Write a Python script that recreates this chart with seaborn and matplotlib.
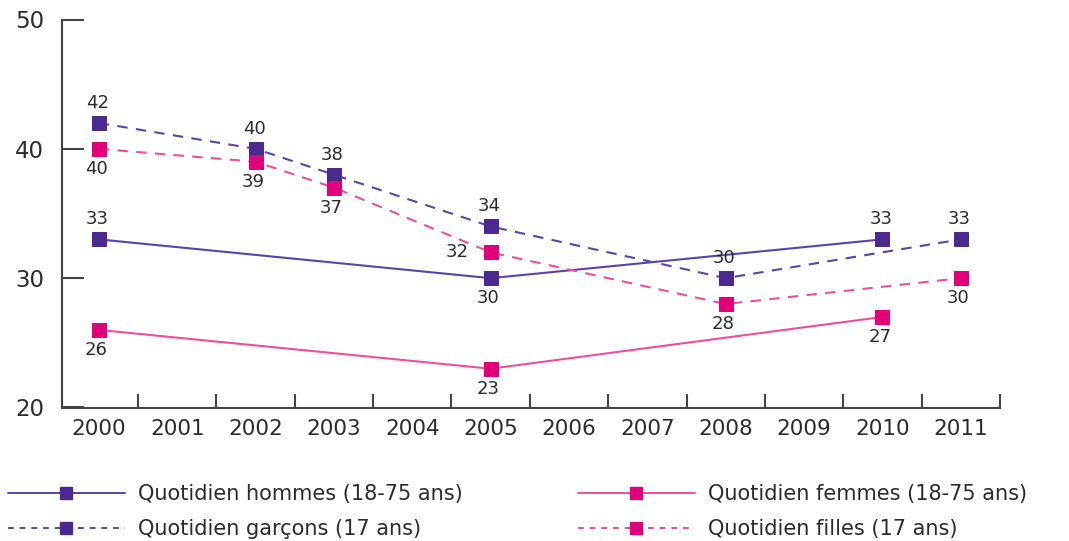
import matplotlib
matplotlib.use("Agg")
import matplotlib.pyplot as plt
from matplotlib.lines import Line2D
import seaborn as sns
import pandas as pd

# Daily smoking prevalence (%)
years_adults = [2000, 2005, 2010]
hommes = [33, 30, 33]
femmes = [26, 23, 27]

years_teens = [2000, 2002, 2003, 2005, 2008, 2011]
garcons = [42, 40, 38, 34, 30, 33]
filles = [40, 39, 37, 32, 28, 30]

year_ticks = list(range(2000, 2012))
y_ticks = [20, 30, 40, 50]

labels = {
    "hommes": "Quotidien hommes (18-75 ans)",
    "femmes": "Quotidien femmes (18-75 ans)",
    "garcons": "Quotidien garçons (17 ans)",
    "filles": "Quotidien filles (17 ans)",
}

PURPLE = "#4a2a8f"
PURPLE_LINE = "#5a44a6"
PINK = "#e2007a"
PINK_LINE = "#ec4f98"
TEXT = "#2b2b2b"

sns.set_theme(style="white")
plt.rcParams["font.family"] = ["DejaVu Sans"]

W, H = 1069, 541
fig = plt.figure(figsize=(W / 100, H / 100), dpi=100)
ax = fig.add_axes([62 / W, (H - 407.5) / H, (1000 - 62) / W, (407.5 - 19.5) / H])

series = [
    ("hommes", years_adults, hommes, PURPLE_LINE, PURPLE, "-"),
    ("femmes", years_adults, femmes, PINK_LINE, PINK, "-"),
    ("garcons", years_teens, garcons, PURPLE_LINE, PURPLE, "--"),
    ("filles", years_teens, filles, PINK_LINE, PINK, "--"),
]

for key, xs, ys, lc, mc, ls in series:
    df = pd.DataFrame({"annee": xs, "valeur": ys})
    sns.lineplot(data=df, x="annee", y="valeur", ax=ax, color=lc, linewidth=1.5,
                 linestyle=ls, marker="s", markersize=10, markerfacecolor=mc,
                 markeredgecolor=mc, legend=False)
    if ls == "--":
        ax.lines[-1].set_dashes((5, 4))

# value labels: placement per point (offset in points)
place = {
    "hommes": ["up", "down", "up"],
    "femmes": ["down", "down", "down"],
    "garcons": ["up", "up", "up", "up", "up", "up"],
    "filles": ["down", "down", "down", "left", "down", "down"],
}
offsets = {"up": (-1, 14.5), "down": (-2, -14.5), "left": (-24, 0)}
for key, xs, ys, *_ in series:
    for x, y, p in zip(xs, ys, place[key]):
        dx, dy = offsets[p]
        ax.annotate(f"{y}", (x, y), xytext=(dx, dy), textcoords="offset points",
                    ha="center", va="center", fontsize=13, color=TEXT)

ax.set_xlim(1999.53, 2011.5)
ax.set_ylim(20, 50)
ax.set_yticks(y_ticks)
ax.set_yticklabels([str(v) for v in y_ticks], fontsize=16.5, color=TEXT)
ax.set_xticks(year_ticks)
ax.set_xticklabels([str(v) for v in year_ticks], fontsize=15.5, color=TEXT)
ax.set_xticks([y + 0.5 for y in year_ticks], minor=True)
ax.tick_params(axis="x", which="major", length=0, pad=8)
ax.tick_params(axis="x", which="minor", direction="in", length=10, width=1.5,
               color="#444444", bottom=True)
ax.tick_params(axis="y", direction="in", length=16, width=1.5, color="#444444",
               left=True, pad=13)
ax.set_xlabel("")
ax.set_ylabel("")
for s in ["top", "right"]:
    ax.spines[s].set_visible(False)
for s in ["left", "bottom"]:
    ax.spines[s].set_color("#444444")
    ax.spines[s].set_linewidth(1.5)

def handle(lc, mc, ls):
    h = Line2D([], [], color=lc, linewidth=1.4, linestyle=ls, marker="s",
               markersize=9, markerfacecolor=mc, markeredgecolor=mc)
    if ls == "--":
        h.set_dashes((3, 3))
    return h

leg_kw = dict(frameon=False, handlelength=5.6, handletextpad=0.65, borderpad=0,
              borderaxespad=0, labelspacing=0.72, loc="upper left",
              prop={"size": 15})
leg1 = fig.legend([handle(PURPLE_LINE, PURPLE, "-"), handle(PURPLE_LINE, PURPLE, "--")],
                  [labels["hommes"], labels["garcons"]],
                  bbox_to_anchor=(8 / W, (H - 484) / H), **leg_kw)
leg2 = fig.legend([handle(PINK_LINE, PINK, "-"), handle(PINK_LINE, PINK, "--")],
                  [labels["femmes"], labels["filles"]],
                  bbox_to_anchor=(578 / W, (H - 484) / H), **leg_kw)
for lg in (leg1, leg2):
    for t in lg.get_texts():
        t.set_color(TEXT)

fig.savefig("out.png", dpi=100, facecolor="white")
